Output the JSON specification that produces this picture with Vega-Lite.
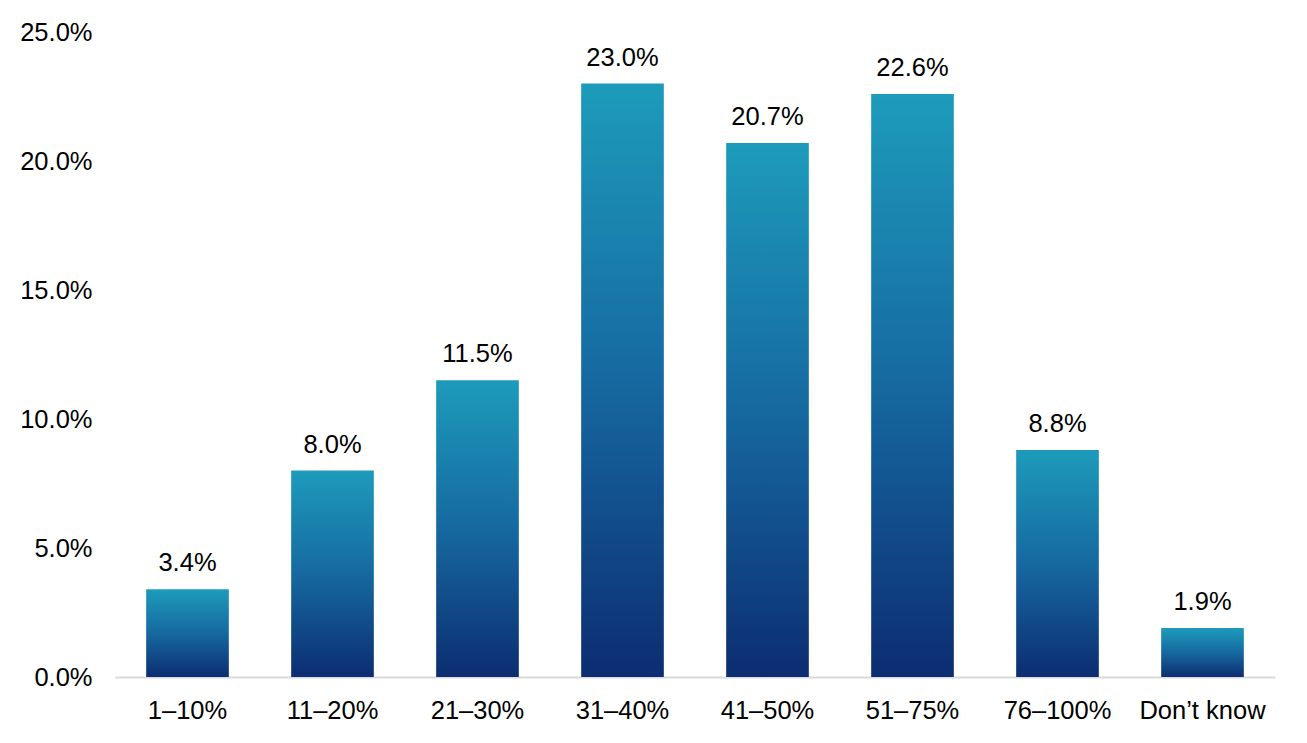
{
  "$schema": "https://vega.github.io/schema/vega-lite/v6.json",
  "autosize": {"type": "none"},
  "padding": {"left": 115, "top": 32, "right": 32, "bottom": 66},
  "width": 1160,
  "height": 645,
  "background": "white",
  "config": {"view": {"stroke": null}},
  "data": {
    "values": [
      {"range": "1–10%", "share": 0.034},
      {"range": "11–20%", "share": 0.080},
      {"range": "21–30%", "share": 0.115},
      {"range": "31–40%", "share": 0.230},
      {"range": "41–50%", "share": 0.207},
      {"range": "51–75%", "share": 0.226},
      {"range": "76–100%", "share": 0.088},
      {"range": "Don’t know", "share": 0.019}
    ]
  },
  "encoding": {
    "x": {
      "field": "range",
      "type": "nominal",
      "sort": null,
      "title": null,
      "scale": {"paddingInner": 0.43, "paddingOuter": 0.215},
      "axis": {
        "labelAngle": 0,
        "labelFont": "Liberation Sans",
        "labelFontSize": 25.5,
        "labelColor": "black",
        "labelPadding": 21,
        "ticks": false,
        "domainColor": "#d9d9d9",
        "domainWidth": 2
      }
    },
    "y": {
      "field": "share",
      "type": "quantitative",
      "title": null,
      "scale": {"domain": [0, 0.25]},
      "axis": {
        "values": [0, 0.05, 0.1, 0.15, 0.2, 0.25],
        "format": ".1%",
        "labelFont": "Liberation Sans",
        "labelFontSize": 25.5,
        "labelColor": "black",
        "labelPadding": 23,
        "ticks": false,
        "domain": false,
        "grid": false
      }
    }
  },
  "layer": [
    {
      "mark": {
        "type": "bar",
        "color": {
          "gradient": "linear",
          "x1": 0, "y1": 0, "x2": 0, "y2": 1,
          "stops": [
            {"offset": 0, "color": "#1d9bbb"},
            {"offset": 0.5, "color": "#1669a0"},
            {"offset": 1, "color": "#0c2d71"}
          ]
        }
      }
    },
    {
      "mark": {
        "type": "text",
        "baseline": "bottom",
        "dy": -13,
        "font": "Liberation Sans",
        "fontSize": 25.5,
        "color": "black"
      },
      "encoding": {
        "text": {"field": "share", "type": "quantitative", "format": ".1%"}
      }
    }
  ]
}
